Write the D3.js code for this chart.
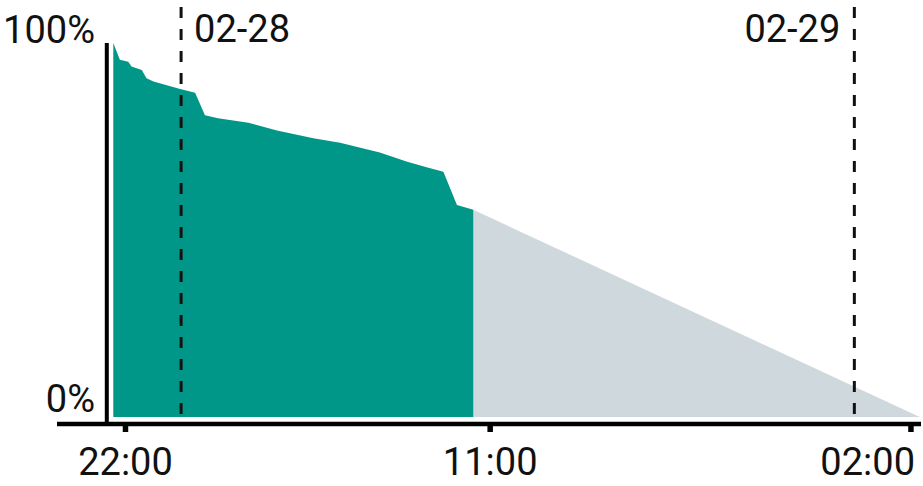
<!DOCTYPE html>
<html>
<head>
<meta charset="utf-8">
<script src="https://cdn.jsdelivr.net/npm/d3@7"></script>
<style>
  html, body { margin: 0; padding: 0; background: #fff; }
  svg { display: block; font-family: Roboto, "Noto Sans", sans-serif; }
</style>
</head>
<body>
<svg id="chart" width="923" height="486"></svg>
<script>
// ---- data ----
const times = [
  "2024-02-27 21:35", "2024-02-27 21:49", "2024-02-27 22:07", "2024-02-27 22:14",
  "2024-02-27 22:36", "2024-02-27 22:46", "2024-02-27 23:01", "2024-02-27 23:58",
  "2024-02-28 00:30", "2024-02-28 00:51", "2024-02-28 01:19", "2024-02-28 02:24",
  "2024-02-28 03:25", "2024-02-28 04:43", "2024-02-28 05:40", "2024-02-28 07:05",
  "2024-02-28 08:02", "2024-02-28 08:45", "2024-02-28 09:21", "2024-02-28 09:50",
  "2024-02-28 10:14", "2024-02-28 10:25"
];
const remaining = [
  100, 95.5, 95.0, 93.7,
  92.8, 90.6, 89.7, 87.7,
  86.7, 80.7, 79.9, 78.7,
  76.6, 74.5, 73.3, 70.7,
  68.3, 66.8, 65.6, 56.7,
  55.8, 55.4
];
const projectionTimes = ["2024-02-28 10:25", "2024-02-29 02:20"];
const projectionValues = [55.4, 0];
const tickTimes = ["2024-02-27 22:00", "2024-02-28 11:00", "2024-02-29 02:00"];
const dayMarks = ["2024-02-28 00:00", "2024-02-29 00:00"];
const yLabels = ["0%", "100%"];
const yLabelValues = [0, 100];

// ---- setup ----
const parse = d3.timeParse("%Y-%m-%d %H:%M");
const W = 923, H = 486;
const svg = d3.select("#chart");

const actual = times.map((t, i) => ({ t: parse(t), v: remaining[i] }));
const projection = projectionTimes.map((t, i) => ({ t: parse(t), v: projectionValues[i] }));

const x = d3.scaleTime()
  .domain([actual[0].t, projection[projection.length - 1].t])
  .range([113.3, 919.8]);
const y = d3.scaleLinear().domain([0, 100]).range([417, 43]);

const area = d3.area()
  .x(d => x(d.t))
  .y0(y(0))
  .y1(d => y(d.v))
  .curve(d3.curveLinear);

// projection (grey) area
svg.append("path")
  .datum(projection)
  .attr("d", area)
  .attr("fill", "#cfd8dc");

// actual (teal) area
svg.append("path")
  .datum(actual)
  .attr("d", area)
  .attr("fill", "#009688");

// day boundary dashed lines + labels
const fmtDay = d3.timeFormat("%m-%d");
dayMarks.map(parse).forEach(d => {
  const xp = x(d);
  svg.append("line")
    .attr("x1", xp).attr("x2", xp)
    .attr("y1", 7).attr("y2", 417)
    .attr("stroke", "#111")
    .attr("stroke-width", 3)
    .attr("stroke-dasharray", "11,11");
  const nearRight = xp > W * 0.7;
  svg.append("text")
    .attr("x", nearRight ? xp - 14 : xp + 13)
    .attr("y", 42)
    .attr("text-anchor", nearRight ? "end" : "start")
    .attr("font-size", 38)
    .attr("fill", "#111")
    .text(fmtDay(d));
});

// axes lines
svg.append("line")
  .attr("x1", 57).attr("x2", 921)
  .attr("y1", 424).attr("y2", 424)
  .attr("stroke", "#000").attr("stroke-width", 4.5);
svg.append("line")
  .attr("x1", 106.8).attr("x2", 106.8)
  .attr("y1", 43).attr("y2", 424)
  .attr("stroke", "#000").attr("stroke-width", 4);

// x axis ticks via d3 axis
const fmtTick = d3.timeFormat("%H:%M");
const xAxis = d3.axisBottom(x)
  .tickValues(tickTimes.map(parse))
  .tickSize(8)
  .tickPadding(0)
  .tickFormat(fmtTick);
const gx = svg.append("g").attr("transform", "translate(0,424)").call(xAxis);
gx.select(".domain").remove();
gx.selectAll(".tick line").attr("stroke", "#000").attr("stroke-width", 5.5);
gx.selectAll(".tick text")
  .attr("font-size", 38)
  .attr("font-family", "Roboto, 'Noto Sans', sans-serif")
  .attr("fill", "#111")
  .attr("dy", null)
  .attr("y", 51)
  .each(function() {
    const node = this;
    const tx = +d3.select(node.parentNode).attr("transform").match(/translate\(([-\d.]+)/)[1];
    const bw = node.getComputedTextLength();
    if (tx + bw / 2 > W - 6) {
      d3.select(node).attr("text-anchor", "end").attr("x", (W - 8) - tx);
    }
  });

// y labels
yLabelValues.forEach((v, i) => {
  svg.append("text")
    .attr("x", 95)
    .attr("y", v === 100 ? 43 : 412)
    .attr("text-anchor", "end")
    .attr("font-size", 38)
    .attr("fill", "#111")
    .text(yLabels[i]);
});
</script>
</body>
</html>
